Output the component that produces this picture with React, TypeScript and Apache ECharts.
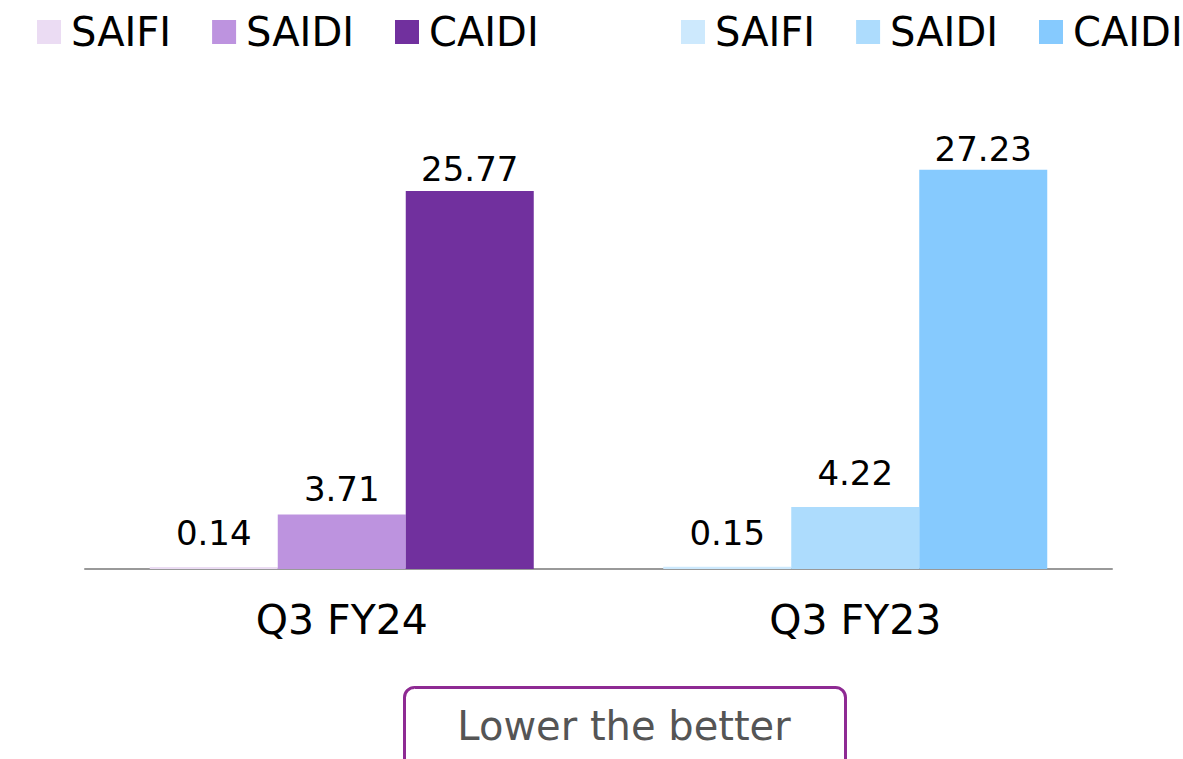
import React, { useEffect, useRef } from "react";
import * as echarts from "echarts";

const categories = ["Q3 FY24", "Q3 FY23"];
const metrics = ["SAIFI", "SAIDI", "CAIDI"];
const fy24Values = [0.14, 3.71, 25.77];
const fy23Values = [0.15, 4.22, 27.23];
const fy24Colors = ["#ebdcf3", "#bd93df", "#71309e"];
const fy23Colors = ["#cde9fd", "#addcfd", "#86cafe"];
const fy24LabelGap = [17, 9, 5];
const fy23LabelGap = [17, 17, 4];

const FONT = "DejaVu Sans";

export default function App() {
  const ref = useRef<HTMLDivElement>(null);
  useEffect(() => {
    if (!ref.current) return;
    const chart = echarts.init(ref.current, undefined, { renderer: "svg" });
    const mkLabel = (d: number) => ({
      show: true,
      position: "top",
      distance: d,
      color: "#000",
      fontFamily: FONT,
      fontSize: 34,
      formatter: (p: any) => Number(p.value).toFixed(2),
    });
    const series: any[] = [];
    metrics.forEach((m, i) => {
      series.push({
        name: m,
        type: "bar",
        stack: "s" + i,
        barWidth: 128,
        barGap: "0%",
        itemStyle: { color: fy24Colors[i] },
        label: mkLabel(fy24LabelGap[i]),
        data: [fy24Values[i], "-"],
      });
    });
    metrics.forEach((m, i) => {
      series.push({
        name: m + " ",
        type: "bar",
        stack: "s" + i,
        barWidth: 128,
        barGap: "0%",
        itemStyle: { color: fy23Colors[i] },
        label: mkLabel(fy23LabelGap[i]),
        data: ["-", fy23Values[i]],
      });
    });
    const legendCommon = {
      top: 12,
      icon: "rect",
      itemWidth: 24,
      itemHeight: 24,
      itemGap: 41,
      padding: 0,
      width: 1000,
      textStyle: {
        fontFamily: FONT,
        fontSize: 40,
        color: "#000",
        width: 101,
        overflow: "none",
        padding: [0, 0, 0, 5],
      },
    };
    chart.setOption({
      animation: false,
      legend: [
        { ...legendCommon, left: 37, data: metrics },
        {
          ...legendCommon,
          left: 681,
          data: metrics.map((m) => m + " "),
          formatter: (n: string) => n.trim(),
        },
      ],
      grid: { left: 85, right: 71, top: 129, bottom: 190, containLabel: false },
      xAxis: {
        type: "category",
        data: categories,
        axisLine: { lineStyle: { color: "#999", width: 2 } },
        axisTick: { show: false },
        axisLabel: {
          color: "#000",
          fontFamily: FONT,
          fontSize: 41,
          margin: 30,
        },
      },
      yAxis: {
        type: "value",
        min: 0,
        max: 30,
        show: false,
        splitLine: { show: false },
      },
      series,
      graphic: [
        {
          type: "rect",
          left: 403,
          top: 686,
          shape: { width: 441, height: 90, r: 10 },
          style: { fill: "#fff", stroke: "#8e2a93", lineWidth: 3 },
        },
        {
          type: "text",
          x: 624,
          y: 726,
          style: {
            text: "Lower the better",
            fill: "#555",
            fontFamily: FONT,
            fontSize: 40,
            align: "center",
            verticalAlign: "middle",
          },
        },
      ],
    });
    return () => chart.dispose();
  }, []);
  return <div ref={ref} style={{ width: 1183, height: 759, position: "absolute", left: 0, top: 0 }} />;
}
